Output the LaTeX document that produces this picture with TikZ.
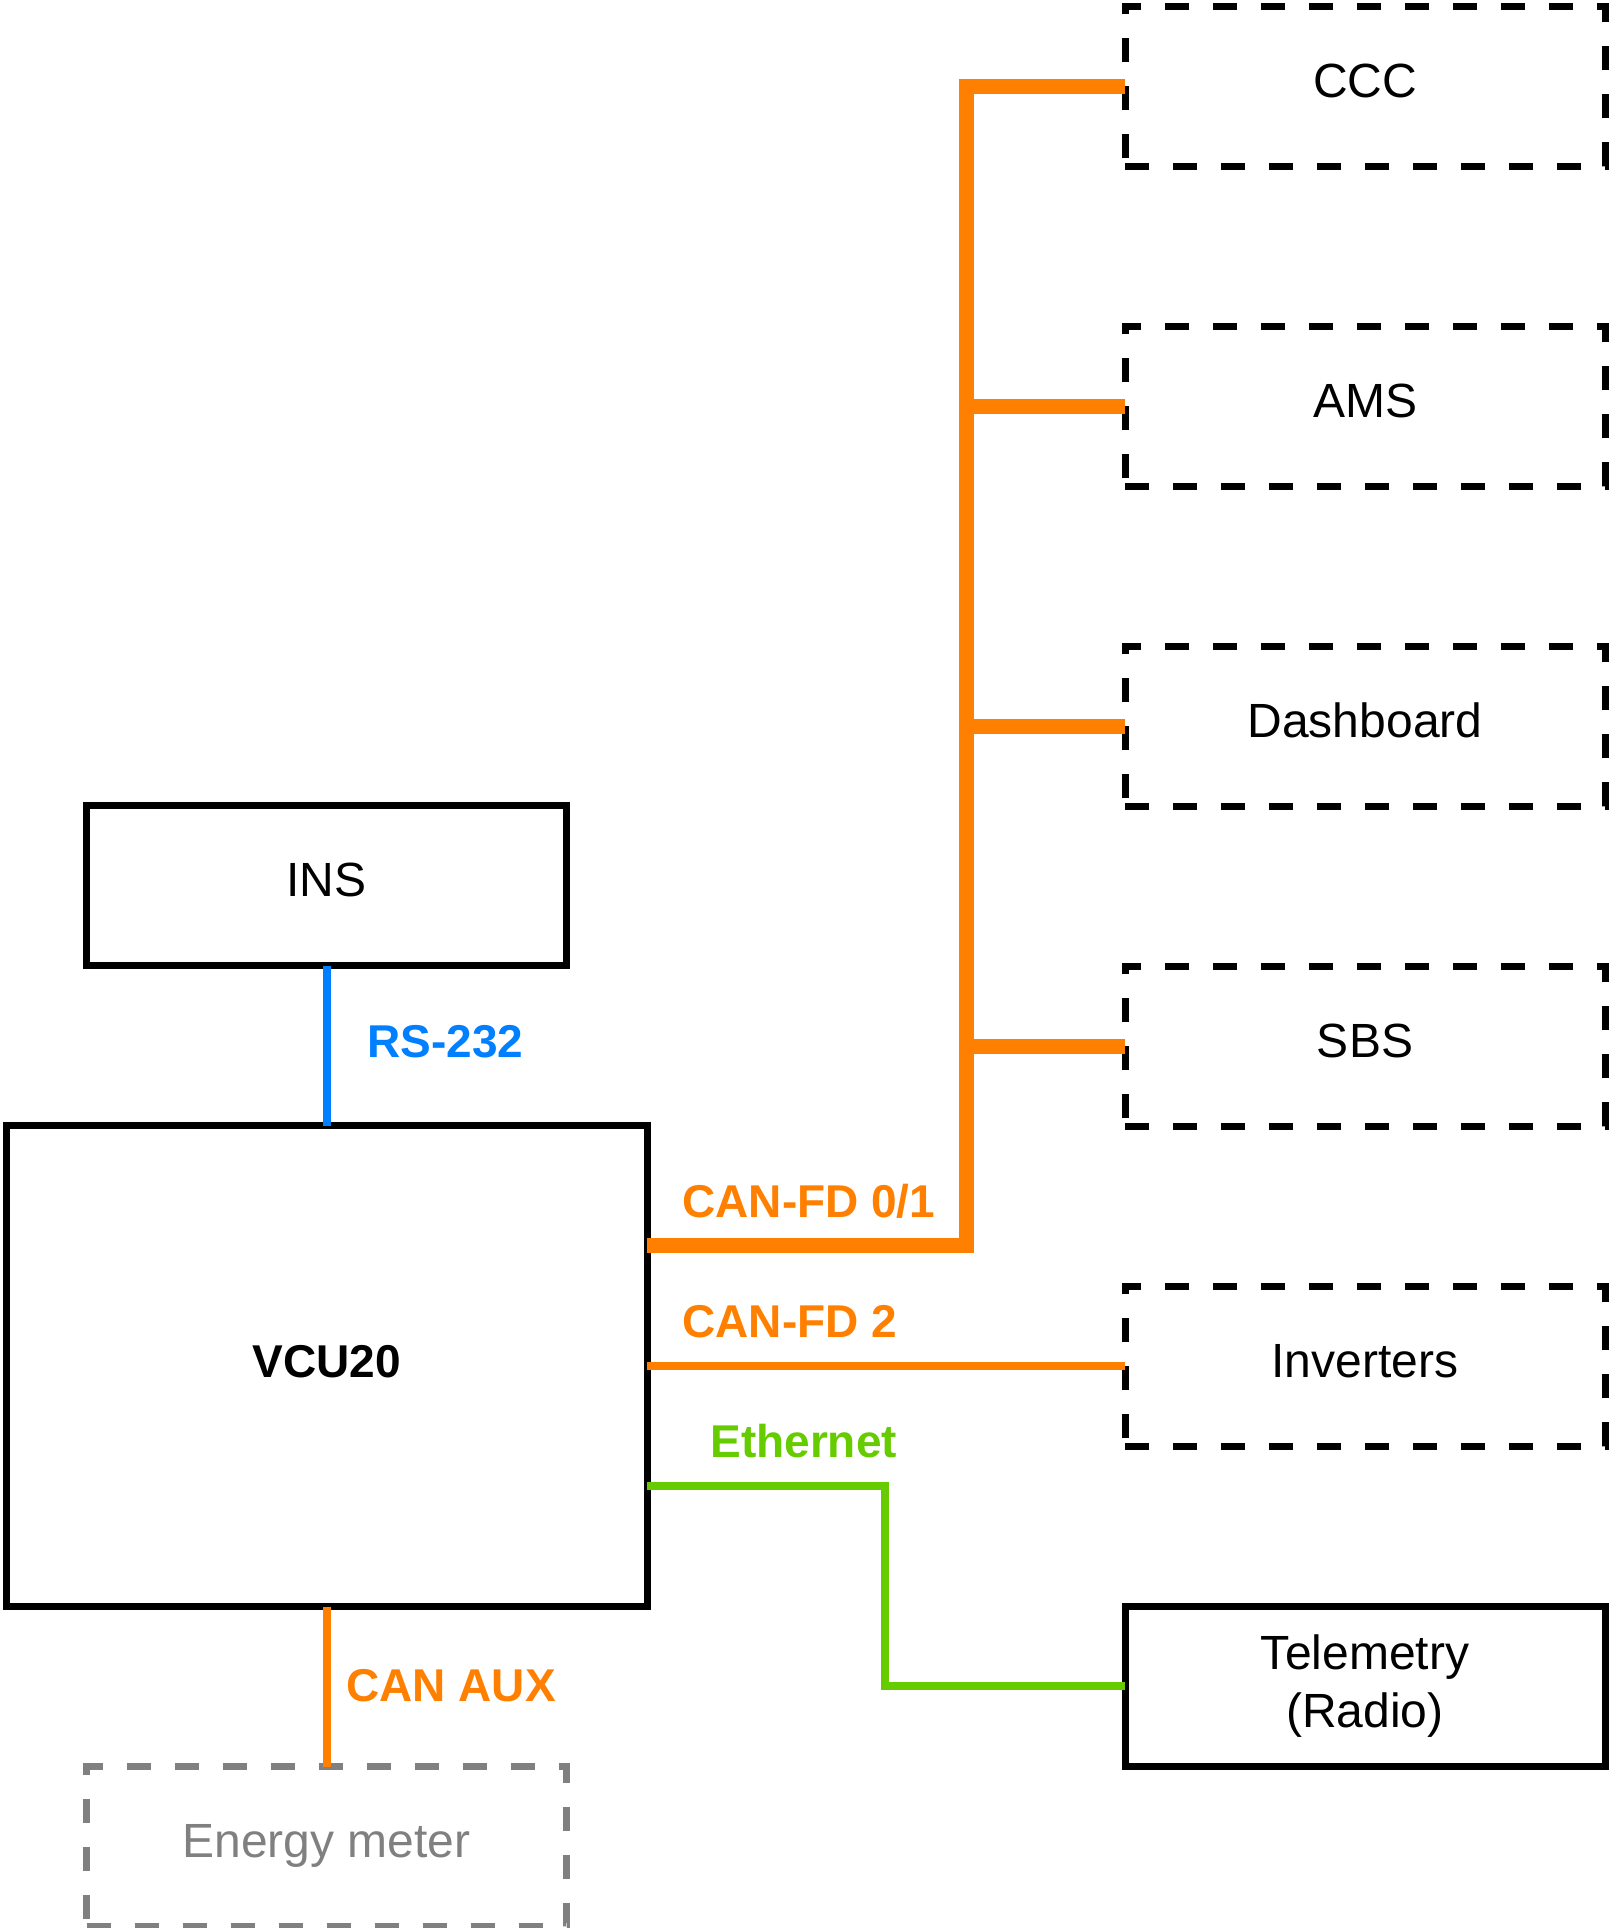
\documentclass[tikz,border=0pt]{standalone}
\usepackage{fontspec}
\setmainfont{Liberation Sans}
\usepackage{xcolor}
\usepackage{tikz}
\usetikzlibrary{positioning,calc}
\definecolor{NETorange}{RGB}{255,128,0}
\definecolor{NETblue}{RGB}{0,127,255}
\definecolor{NETgreen}{RGB}{102,204,0}
\definecolor{NETgray}{RGB}{128,128,128}
\tikzstyle{ubox}  = [rectangle, draw, line width=3.5pt, outer sep=0pt,
                     minimum width=240pt, minimum height=80pt,
                     align=center, inner sep=4pt, font=\fontsize{24}{29}\selectfont]
\tikzstyle{oneline} = [text height=17pt, text depth=6pt]
\tikzstyle{Bsolid} = [ubox]
\tikzstyle{Bdash}  = [ubox, oneline, dash pattern=on 12pt off 12pt]
\tikzstyle{Bopt}   = [Bdash, draw=NETgray, text=NETgray]
\tikzstyle{Bvcu}   = [ubox, oneline, minimum width=320.5pt, minimum height=240.5pt,
                      font=\fontsize{23}{28}\selectfont\bfseries]
\tikzstyle{lbl}    = [anchor=base west, inner sep=0pt,
                      font=\fontsize{23}{28}\selectfont\bfseries]
\tikzstyle{Lbus}   = [line width=7.5pt, draw=NETorange]
\tikzstyle{Lcan}   = [line width=4pt, draw=NETorange]
\tikzstyle{Leth}   = [line width=4pt, draw=NETgreen]
\tikzstyle{Lrs}    = [line width=4pt, draw=NETblue]

\begin{document}
\begin{tikzpicture}[x=0.5pt, y=-0.5pt, node distance=80pt and 239pt]

  \useasboundingbox (0,0) rectangle (1608,1928);

  % right column
  \node[Bdash] (ccc) at (1365,86) {CCC};
  \node[Bdash, below=of ccc] (ams) {AMS};
  \node[Bdash, below=of ams] (dash) {Dashboard};
  \node[Bdash, below=of dash] (sbs) {SBS};
  \node[Bdash, below=of sbs] (inv) {Inverters};
  \node[Bsolid, below=of inv] (tel) {Telemetry\\(Radio)};

  % left column
  \node[Bvcu, left=of inv] (vcu) {VCU20};
  \node[Bsolid, oneline, above=of vcu] (ins) {INS};
  \node[Bopt, below=of vcu] (emeter) {Energy meter};

  % buses
  \coordinate (bus) at (966,1245);
  \draw[Lbus] (vcu.east |- bus) -- (bus) |- (ccc.west);
  \draw[Lbus] (bus |- ams.west) -- (ams.west);
  \draw[Lbus] (bus |- dash.west) -- (dash.west);
  \draw[Lbus] (bus |- sbs.west) -- (sbs.west);
  \draw[Lcan] (vcu.east |- inv.west) -- (inv.west);
  \draw[Leth] ($(vcu.east)+(0,120)$) -- ++(238,0) |- (tel.west);
  \draw[Lrs] (ins.south) -- (ins.south |- vcu.north);
  \draw[Lcan] (vcu.south) -- (emeter.north);

  % labels
  \node[lbl, text=NETblue] (lrs) at (367,1057) {RS-232};
  \node[lbl, text=NETorange] (lfd01) at (682,1217) {CAN-FD 0/1};
  \node[lbl, text=NETorange] (lfd2) at (682,1337) {CAN-FD 2};
  \node[lbl, text=NETgreen] (leth) at (710,1457) {Ethernet};
  \node[lbl, text=NETorange] (laux) at (346,1701) {CAN AUX};

\end{tikzpicture}
\end{document}
